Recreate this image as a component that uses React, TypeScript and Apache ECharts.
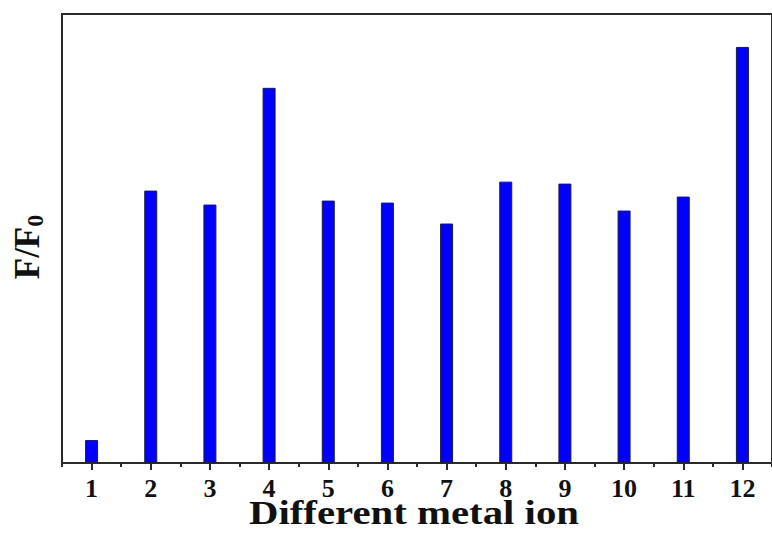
import React, { useEffect, useRef } from "react";
import * as echarts from "echarts";

const categories = ["1", "2", "3", "4", "5", "6", "7", "8", "9", "10", "11", "12"];
const ratioValues = [0.23, 2.73, 2.59, 3.76, 2.63, 2.61, 2.4, 2.82, 2.8, 2.53, 2.67, 4.17];
const xTitle = "Different metal ion";
const yTitleRich = "{a|F/F}{b|0}";

export default function App() {
  const ref = useRef<HTMLDivElement>(null);
  useEffect(() => {
    document.body.style.margin = "0";
    const chart = echarts.init(ref.current!, null, { renderer: "svg" });
    const font = "Liberation Serif";
    chart.setOption({
      animation: false,
      backgroundColor: "#ffffff",
      grid: {
        left: 62,
        top: 14,
        right: -7,
        bottom: 71,
        show: true,
        borderColor: "#2a2a2a",
        borderWidth: 2,
        backgroundColor: "transparent",
      },
      xAxis: [
        {
          type: "category",
          data: categories,
          position: "bottom",
          axisLine: { show: true, lineStyle: { color: "#2a2a2a", width: 2 } },
          axisTick: { show: true, alignWithLabel: true, length: 7, lineStyle: { color: "#2a2a2a", width: 2 } },
          axisLabel: { color: "#111", fontFamily: font, fontWeight: "bold", fontSize: 26, margin: 12 },
        },
        {
          type: "category",
          data: categories,
          position: "bottom",
          axisLine: { show: false },
          axisTick: { show: true, alignWithLabel: false, length: 4, lineStyle: { color: "#2a2a2a", width: 2 } },
          axisLabel: { show: false },
        },
      ],
      yAxis: {
        type: "value",
        min: 0,
        max: 4.5,
        axisLine: { show: true, lineStyle: { color: "#2a2a2a", width: 2 } },
        axisTick: { show: false },
        axisLabel: { show: false },
        splitLine: { show: false },
      },
      series: [
        {
          type: "bar",
          xAxisIndex: 0,
          data: ratioValues,
          barWidth: 13,
          itemStyle: { color: "#0000ff", borderColor: "#1c1c44", borderWidth: 1 },
        },
      ],
      graphic: [
        {
          type: "text",
          x: 414,
          y: 513,
          scaleX: 1.2,
          style: {
            text: xTitle,
            fontFamily: font,
            fontWeight: "bold",
            fontSize: 34,
            fill: "#111",
            textAlign: "center",
            textVerticalAlign: "middle",
          },
        },
        {
          type: "text",
          x: 27,
          y: 247,
          rotation: Math.PI / 2,
          style: {
            text: yTitleRich,
            fill: "#111",
            textAlign: "center",
            textVerticalAlign: "middle",
            rich: {
              a: { fontFamily: font, fontWeight: "bold", fontSize: 35, lineHeight: 35, fill: "#111" },
              b: { fontFamily: font, fontWeight: "bold", fontSize: 24, fill: "#111", padding: [16, 0, 0, 0] },
            },
          },
        },
      ],
    });
    return () => chart.dispose();
  }, []);
  return <div ref={ref} style={{ width: 772, height: 534 }} />;
}
